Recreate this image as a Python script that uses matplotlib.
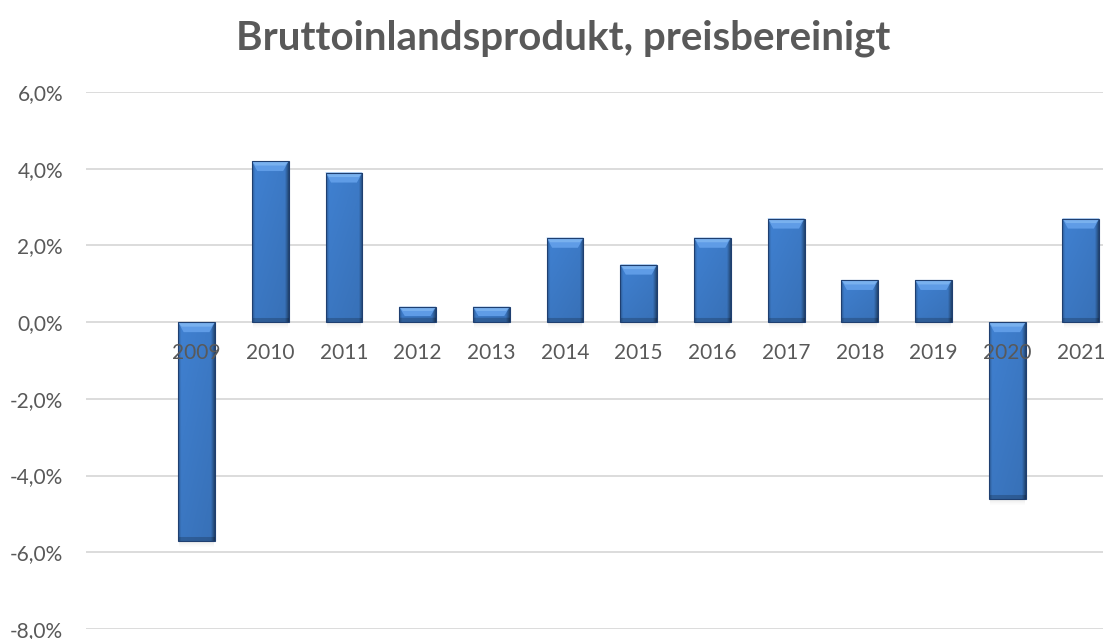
import numpy as np
import matplotlib
matplotlib.use("Agg")
import matplotlib.pyplot as plt
from matplotlib.colors import to_rgb
from matplotlib.patches import Polygon, Rectangle
from matplotlib.ticker import FuncFormatter

years = ["2009", "2010", "2011", "2012", "2013", "2014", "2015", "2016",
         "2017", "2018", "2019", "2020", "2021"]
growth = [-5.7, 4.2, 3.9, 0.4, 0.4, 2.2, 1.5, 2.2, 2.7, 1.1, 1.1, -4.6, 2.7]
title = "Bruttoinlandsprodukt, preisbereinigt"
yticks = [-8, -6, -4, -2, 0, 2, 4, 6]

plt.rcParams['font.family'] = ['Lato', 'DejaVu Sans']
GRAY = "#595959"

fig = plt.figure(figsize=(11.05, 6.39), dpi=100)
ax = fig.add_axes([86/1105, 1 - 629/639, (1103 - 86)/1105, (629 - 92)/639])
ax.set_xlim(-1.5, 12.3)
ax.set_ylim(-8, 6)

x = np.arange(len(years))
width = 0.5
bars = ax.bar(x, growth, width=width, color="none", edgecolor="#1F3F70",
              linewidth=0.8, zorder=4)

px_per_unit = (629 - 92) / 14.0
bev = 10 / px_per_unit
base = np.array(to_rgb("#3D7BC8"))
for b, v in zip(bars, growth):
    x0 = b.get_x()
    w = b.get_width()
    y0, y1 = (0, v) if v >= 0 else (v, 0)
    hpx = max(int((y1 - y0) * px_per_unit), 2)
    # horizontal factor
    xs = np.linspace(0, 1, 40)
    fx = np.ones_like(xs)
    fx = np.where(xs < 0.08, 0.75 + 0.25 * xs / 0.08, fx)
    fx = np.where(xs > 0.90, 1.0 - 0.4 * (xs - 0.90) / 0.10, fx)
    fx = fx * (1.03 - 0.06 * xs)
    ys = np.linspace(0, 1, hpx)[:, None]  # 0 top, 1 bottom
    fy = 1.02 - 0.08 * ys
    botpx = 4.0 / hpx
    fy = np.where(ys > 1 - botpx, fy * 0.8, fy)
    img = np.clip(base[None, None, :] * (fx[None, :, None] * fy[:, :, None]), 0, 1)
    # soft shadow
    for k, a in zip(range(6), [0.07, 0.06, 0.05, 0.035, 0.02, 0.01]):
        off = (k + 1) / px_per_unit
        ax.add_patch(Rectangle((x0 + 0.015, y0 - off), w - 0.03, 1 / px_per_unit,
                               facecolor="black", alpha=a, edgecolor="none", zorder=2))
    im = ax.imshow(img, aspect="auto", extent=(x0, x0 + w, y0, y1),
                   zorder=3, interpolation="bilinear")
    im.set_clip_path(b)
    top = y1
    bh = min(bev, (y1 - y0) * 0.6)
    ax.add_patch(Polygon([(x0, top), (x0 + w, top), (x0 + 0.85 * w, top - bh),
                          (x0 + 0.15 * w, top - bh)], closed=True,
                         facecolor="#63A0EA", edgecolor="none", alpha=0.9, zorder=3.5))
    ax.add_patch(Polygon([(x0, top), (x0 + w, top), (x0 + 0.9 * w, top - bh * 0.45),
                          (x0 + 0.1 * w, top - bh * 0.45)], closed=True,
                         facecolor="#8CC0F5", edgecolor="none", alpha=0.6, zorder=3.6))

ax.set_yticks(yticks)
ax.yaxis.set_major_formatter(FuncFormatter(lambda v, p: f"{v:.1f}%".replace(".", ",")))
ax.tick_params(axis="y", length=0, pad=16.5, labelsize=15, labelcolor=GRAY)
ax.set_xticks([])
ax.grid(axis="y", color="#D9D9D9", linewidth=1.3, zorder=0)
for s in ax.spines.values():
    s.set_visible(False)

for i, yr in enumerate(years):
    ax.annotate(yr, (i, 0), xytext=(0, -22.5), textcoords="offset points",
                ha="center", va="center", fontsize=15, color=GRAY, zorder=5)

fig.text(563/1105, 1 - 38/639, title, ha="center", va="center",
         fontsize=29, fontweight="bold", color=GRAY)

fig.savefig("out.png", dpi=100)
